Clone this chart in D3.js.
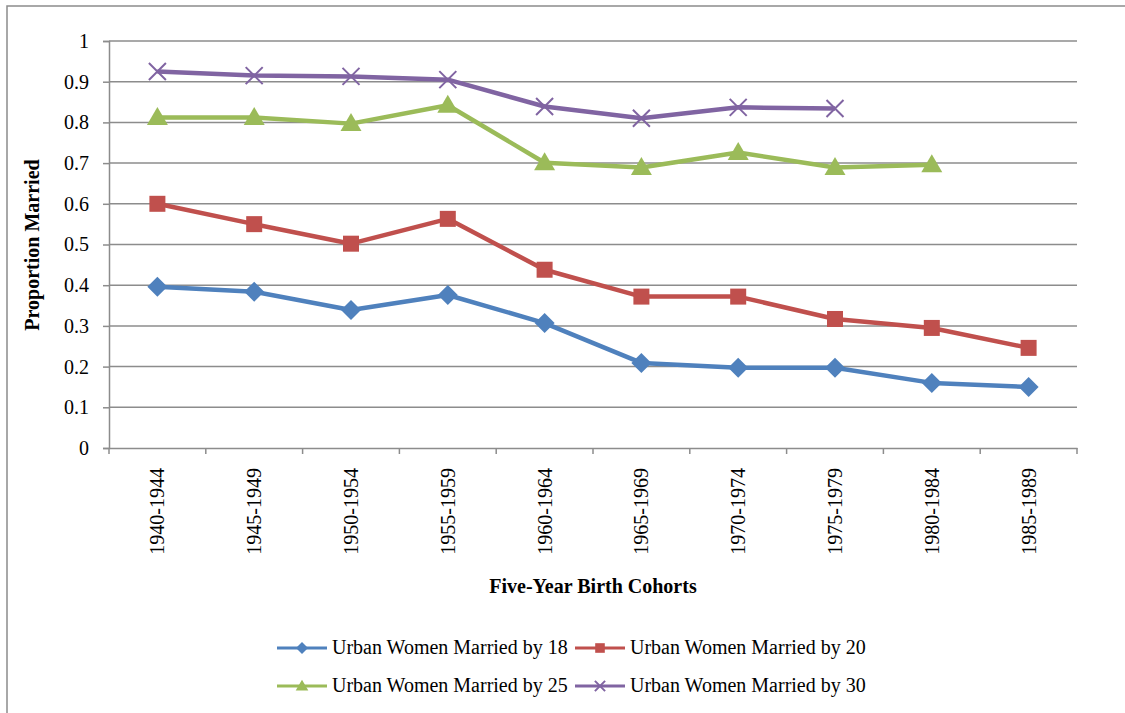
<!doctype html>
<html>
<head>
<style>
  body { margin: 0; background: #fff; font-family: "Liberation Serif", "Times New Roman", serif; }
  text { fill: #000; }
</style>
<script src="https://d3js.org/d3.v7.min.js"></script>
</head>
<body>
<div id="chart"></div>
<script>
var cohorts = ["1940-1944","1945-1949","1950-1954","1955-1959","1960-1964","1965-1969","1970-1974","1975-1979","1980-1984","1985-1989"];
var married18 = [0.396, 0.384, 0.339, 0.376, 0.307, 0.209, 0.197, 0.197, 0.160, 0.150];
var married20 = [0.600, 0.550, 0.502, 0.563, 0.438, 0.372, 0.372, 0.317, 0.295, 0.246];
var married25 = [0.812, 0.812, 0.797, 0.842, 0.701, 0.689, 0.726, 0.689, 0.696];
var married30 = [0.925, 0.915, 0.913, 0.905, 0.839, 0.810, 0.837, 0.834];
var yTicks = [0, 0.1, 0.2, 0.3, 0.4, 0.5, 0.6, 0.7, 0.8, 0.9, 1];

var series = [
  {name: "Urban Women Married by 18", values: married18, color: "#4F81BD", marker: "diamond"},
  {name: "Urban Women Married by 20", values: married20, color: "#C0504D", marker: "square"},
  {name: "Urban Women Married by 25", values: married25, color: "#9BBB59", marker: "triangle"},
  {name: "Urban Women Married by 30", values: married30, color: "#8064A2", marker: "cross"}
];

var W = 1125, H = 713;
var margin = {top: 41, left: 109, right: 48, bottom: 265};
var width = W - margin.left - margin.right,
    height = H - margin.top - margin.bottom;
var serif = "Liberation Serif, Times New Roman, serif";

var svg = d3.select("#chart").append("svg")
  .attr("width", W).attr("height", H)
  .attr("font-family", serif);

// outer frame
svg.append("rect")
  .attr("x", 7).attr("y", 6).attr("width", W).attr("height", H)
  .attr("fill", "none").attr("stroke", "#8c8c8c").attr("stroke-width", 1.5);

var g = svg.append("g").attr("transform", "translate(" + margin.left + "," + margin.top + ")");

var x = d3.scaleBand().domain(cohorts).range([0, width]);
var y = d3.scaleLinear().domain([0, 1]).range([height, 0]);

// gridlines
g.selectAll(".grid").data(yTicks.slice(1)).enter().append("line")
  .attr("x1", 0).attr("x2", width)
  .attr("y1", function(d) { return y(d); }).attr("y2", function(d) { return y(d); })
  .attr("stroke", "#8c8c8c").attr("stroke-width", 1.5);

// y axis
var yAxis = g.append("g")
  .call(d3.axisLeft(y).tickValues(yTicks).tickSize(6).tickPadding(14).tickFormat(function(d) { return d3.format("")(+d.toFixed(1)); }))
  .attr("font-family", serif).attr("font-size", 20);
yAxis.selectAll("path, line").attr("stroke", "#8c8c8c").attr("stroke-width", 1.5);
yAxis.selectAll("text").attr("fill", "#000");

// x axis
var xAxis = g.append("g").attr("transform", "translate(0," + height + ")")
  .call(d3.axisBottom(x).tickSize(0).tickFormat(""))
  .attr("font-family", serif).attr("font-size", 20);
xAxis.selectAll("path").attr("stroke", "#8c8c8c").attr("stroke-width", 1.5);
var bounds = cohorts.map(function(c) { return x(c); }).concat([width]);
xAxis.selectAll(".btick").data(bounds).enter().append("line")
  .attr("x1", function(d) { return d; }).attr("x2", function(d) { return d; })
  .attr("y1", 0).attr("y2", 6)
  .attr("stroke", "#8c8c8c").attr("stroke-width", 1.5);
xAxis.selectAll(".xl").data(cohorts).enter().append("text")
  .attr("transform", function(d) { return "translate(" + (x(d) + x.bandwidth() / 2 + 7) + ",20) rotate(-90)"; })
  .attr("text-anchor", "end")
  .attr("fill", "#000")
  .text(function(d) { return d; });

// axis titles
svg.append("text")
  .attr("x", 593).attr("y", 593)
  .attr("text-anchor", "middle")
  .style("font-size", "20px").style("font-weight", "bold")
  .text("Five-Year Birth Cohorts");
svg.append("text")
  .attr("transform", "translate(39," + 245 + ") rotate(-90)")
  .attr("text-anchor", "middle")
  .style("font-size", "20px").style("font-weight", "bold")
  .text("Proportion Married");

function drawMarker(sel, type, color, s) {
  if (type === "diamond") {
    sel.append("path").attr("d", "M0," + (-s) + "L" + s + ",0L0," + s + "L" + (-s) + ",0Z").attr("fill", color);
  } else if (type === "square") {
    sel.append("rect").attr("x", -s * 0.8).attr("y", -s * 0.8).attr("width", s * 1.6).attr("height", s * 1.6).attr("fill", color);
  } else if (type === "triangle") {
    sel.append("path").attr("d", "M0," + (-s * 1.05) + "L" + (s * 1.05) + "," + (s * 0.75) + "L" + (-s * 1.05) + "," + (s * 0.75) + "Z").attr("fill", color);
  } else {
    sel.append("path").attr("d", "M" + (-s * 0.85) + "," + (-s * 0.85) + "L" + (s * 0.85) + "," + (s * 0.85) + "M" + (-s * 0.85) + "," + (s * 0.85) + "L" + (s * 0.85) + "," + (-s * 0.85))
      .attr("stroke", color).attr("stroke-width", 2).attr("fill", "none");
  }
}

var line = d3.line()
  .x(function(d, i) { return x(cohorts[i]) + x.bandwidth() / 2; })
  .y(function(d) { return y(d); });

series.forEach(function(s) {
  g.append("path").datum(s.values)
    .attr("d", line)
    .attr("fill", "none").attr("stroke", s.color).attr("stroke-width", 4.5)
    .attr("stroke-linejoin", "round");
  s.values.forEach(function(v, i) {
    var m = g.append("g").attr("transform", "translate(" + (x(cohorts[i]) + x.bandwidth() / 2) + "," + y(v) + ")");
    drawMarker(m, s.marker, s.color, 10);
  });
});

// legend
var legendPos = [{x: 277, y: 648}, {x: 575, y: 648}, {x: 277, y: 686}, {x: 575, y: 686}];
series.forEach(function(s, i) {
  var p = legendPos[i];
  var lg = svg.append("g").attr("transform", "translate(" + p.x + "," + p.y + ")");
  lg.append("line").attr("x1", 0).attr("x2", 50).attr("y1", 0).attr("y2", 0)
    .attr("stroke", s.color).attr("stroke-width", 3);
  var m = lg.append("g").attr("transform", "translate(25,0)");
  drawMarker(m, s.marker, s.color, 6);
  lg.append("text").attr("x", 55).attr("y", 6)
    .style("font-size", "20px").text(s.name);
});
</script>
</body>
</html>
